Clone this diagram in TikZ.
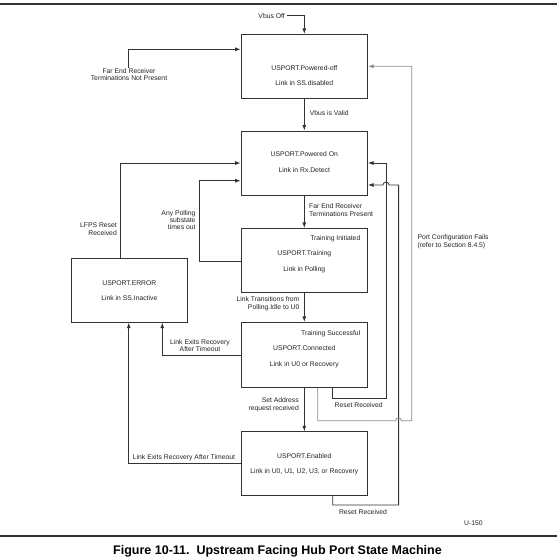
\documentclass[tikz,border=0pt]{standalone}
\usepackage{fontspec}
\setmainfont{Liberation Sans}
\usetikzlibrary{arrows.meta,calc}
\definecolor{linec}{HTML}{333333}
\definecolor{lightc}{HTML}{8C8C8C}
\definecolor{txtc}{HTML}{222222}
\begin{document}
\begin{tikzpicture}[x=1pt,y=-1pt,
  box/.style={draw=linec,line width=0.8pt,minimum width=126.6pt,minimum height=64pt,inner sep=0pt},
  lbl/.style={font=\fontsize{6.8}{7.8}\selectfont,text=txtc,inner sep=0pt},
  wire/.style={draw=linec,line width=0.8pt},
  arr/.style={wire,-{Latex[length=5.5pt,width=4pt]}},
  larr/.style={arr,draw=lightc},
  rulel/.style={draw=linec,line width=1.2pt}]
\useasboundingbox (0,0) rectangle (557,558);
% rules
\draw[rulel] (0,4) -- (557,4);
\draw[rulel] (0,536) -- (557,536);
% boxes
\node[box] (poff) at (304.3,66.3) {};
\node[box] (pon) at (304.3,163) {};
\node[box] (train) at (304.3,260.3) {};
\node[box,minimum width=116.3pt] (err) at (129.35,290.3) {};
\node[box,minimum height=65.4pt] (connd) at (304.3,355) {};
\node[box] (enab) at (304.3,463.7) {};
% box texts
\node[lbl,anchor=base] (poff1) at (304.3,70.7) {USPORT.Powered-off};
\node[lbl,anchor=base] (poff2) at (304.3,85.7) {Link in SS.disabled};
\node[lbl,anchor=base] (pon1) at (304.3,156.7) {USPORT.Powered On};
\node[lbl,anchor=base] (pon2) at (304.3,172.4) {Link in Rx.Detect};
\node[lbl,anchor=base east] (train0) at (360.5,240.7) {Training Initiated};
\node[lbl,anchor=base] (train1) at (304.3,255.7) {USPORT.Training};
\node[lbl,anchor=base] (train2) at (304.3,271.7) {Link in Polling};
\node[lbl,anchor=base] (err1) at (129.35,285.7) {USPORT.ERROR};
\node[lbl,anchor=base] (err2) at (129.35,300.1) {Link in SS.Inactive};
\node[lbl,anchor=base east] (connd0) at (360.5,335.1) {Training Successful};
\node[lbl,anchor=base] (connd1) at (304.3,350.7) {USPORT.Connected};
\node[lbl,anchor=base] (connd2) at (304.3,366.4) {Link in U0 or Recovery};
\node[lbl,anchor=base] (enab1) at (304.3,458.4) {USPORT.Enabled};
\node[lbl,anchor=base] (enab2) at (304.3,473.1) {Link in U0, U1, U2, U3, or Recovery};
% labels
\node[lbl,anchor=east] (vbusoff) at (285,15.7) {Vbus Off};
\node[lbl,align=center,anchor=north] (fenp) at (129,68) {Far End Receiver\\Terminations Not Present};
\node[lbl,anchor=base west] (vvalid) at (309.6,115.7) {Vbus is Valid};
\node[lbl,align=right,anchor=east] (lfps) at (117,228.9) {LFPS Reset\\Received};
\node[lbl,align=right,anchor=east,font=\fontsize{6.8}{7.4}\selectfont] (apoll) at (195.7,220) {Any Polling\\substate\\times out};
\node[lbl,align=left,anchor=west] (fep) at (309,210) {Far End Receiver\\Terminations Present};
\node[lbl,align=left,anchor=west,font=\fontsize{6.8}{8.6}\selectfont] (pcf) at (417.4,241.7) {Port Configuration Fails\\(refer to Section 8.4.5)};
\node[lbl,align=right,anchor=east] (ltr) at (299.6,303.9) {Link Transitions from\\Polling.Idle to U0};
\node[lbl,align=center] (lerc) at (200,345.5) {Link Exits Recovery\\After Timeout};
\node[lbl,align=right,anchor=east] (sa) at (299,405) {Set Address\\request received};
\node[lbl,anchor=base west] (lere) at (132.7,459.1) {Link Exits Recovery After Timeout};
\node[lbl] (rr1) at (358.7,405) {Reset Received};
\node[lbl] (rr2) at (363,511.7) {Reset Received};
\node[lbl,anchor=base west] (u150) at (464,525.1) {U-150};
\node[font=\fontsize{12.5}{14}\selectfont\bfseries,text=black,anchor=base,inner sep=0pt] (cap) at (277.5,554.5) {Figure 10-11.\ \ Upstream Facing Hub Port State Machine};
% connectors
\draw[arr] ([xshift=1.5pt]vbusoff.east) -| (poff.north);
\draw[arr] ([xshift=-1pt]fenp.north) |- ([yshift=17pt]poff.west);
\draw[arr] (poff.south) -- (pon.north);
\draw[arr] ([xshift=-9.1pt]err.north) |- (pon.west);
\draw[arr] ([yshift=-1.4pt]train.west) -- ++(-41,0) |- ([yshift=-17.7pt]pon.west);
\draw[arr] (pon.south) -- (train.north);
\draw[arr] (train.south) -- (connd.north);
\draw[arr] (connd.west) -| ([xshift=32.9pt]err.south);
\draw[arr] (connd.south) -- (enab.north);
\draw[arr] (enab.west) -| ([xshift=-0.6pt]err.south);
\draw[arr] ([xshift=28.4pt]connd.south) |- (386,398.3) |- (pon.east);
\draw[arr] ([xshift=28.4pt]enab.south) |- (398.6,505) -- (398.6,185) -- (389,185)
   arc[start angle=0,end angle=-180,radius=3] -- ([yshift=-22pt]pon.east);
\draw[larr] ([xshift=13.5pt]connd.south) |- (395.6,420.7)
   arc[start angle=180,end angle=360,radius=3] -- (411.7,420.7) |- (poff.east);
\end{tikzpicture}
\end{document}
